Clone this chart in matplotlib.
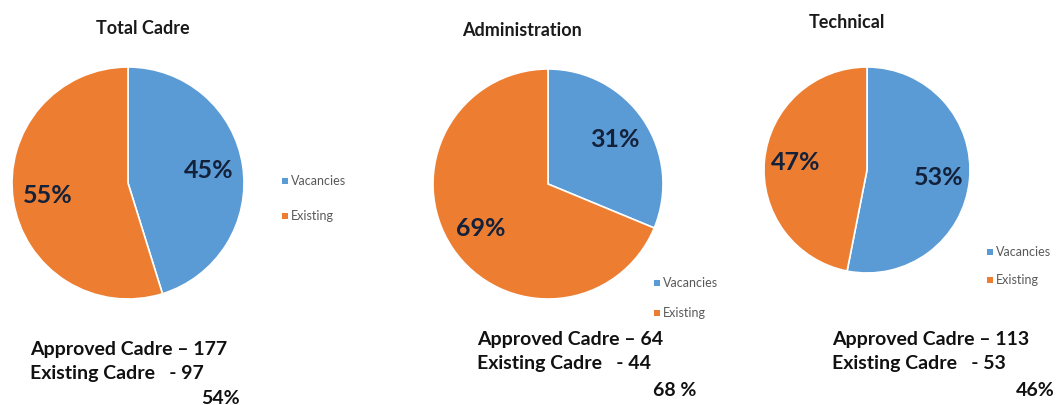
import matplotlib
matplotlib.use("Agg")
import matplotlib.pyplot as plt

plt.rcParams["font.family"] = ["Lato", "DejaVu Sans"]

# ── data ──
titles = ["Total Cadre", "Administration", "Technical"]
labels = ["Vacancies", "Existing"]
approved = [177, 64, 113]
existing = [97, 44, 53]
vacancies = [a - e for a, e in zip(approved, existing)]
ratio_text = ["54%", "68 %", "46%"]

colors = ["#5B9BD5", "#ED7D31"]

W, H = 1057, 405
fig = plt.figure(figsize=(W / 100, H / 100), dpi=100)
fig.patch.set_facecolor("white")

# layout in pixels: pie centre, radius, title, legend, notes
layout = [
    dict(c=(128, 183), r=116, title=(143, 28), leg=(282, 181), gap=35, note=(30, 350), pct=(240, 398)),
    dict(c=(548, 184), r=115, title=(522, 31), leg=(654, 283), gap=30, note=(477, 339), pct=(696, 390)),
    dict(c=(867, 170), r=103, title=(847, 22), leg=(987, 252), gap=28, note=(832, 339), pct=(1055, 390)),
]


def fx(x):
    return x / W


def fy(y):
    return 1 - y / H


for i, L in enumerate(layout):
    cx, cy = L["c"]
    r = L["r"]
    ax = fig.add_axes([fx(cx - r), fy(cy + r), 2 * r / W, 2 * r / H])
    wedges, _, autotexts = ax.pie(
        [vacancies[i], existing[i]], colors=colors, startangle=90,
        counterclock=False, radius=1, autopct="%.0f%%", pctdistance=0.7,
        wedgeprops=dict(edgecolor="white", linewidth=1.2),
        textprops=dict(fontsize=18, fontweight="bold", color="#14213a"))
    ax.set_xlim(-1, 1)
    ax.set_ylim(-1, 1)
    ax.set_aspect("auto")

    tx, ty = L["title"]
    fig.text(fx(tx), fy(ty), titles[i], ha="center", va="center",
             fontsize=13, fontweight="bold", color="#1a1a1a")

    # legend
    lx, ly = L["leg"]
    for j, lab in enumerate(labels):
        yy = ly + j * L["gap"]
        fig.patches.append(plt.Rectangle((fx(lx), fy(yy) - 3 / H), 6 / W, 6 / H,
                                         transform=fig.transFigure, facecolor=colors[j],
                                         edgecolor="none"))
        fig.text(fx(lx + 9), fy(yy), lab, ha="left", va="center",
                 fontsize=9, color="#595959")

    # notes below each pie
    nx, ny = L["note"]
    fig.text(fx(nx), fy(ny), f"Approved Cadre \u2013 {approved[i]}", ha="left",
             va="center", fontsize=14, fontweight="bold", color="#111111")
    fig.text(fx(nx), fy(ny + 24), f"Existing Cadre   - {existing[i]}", ha="left",
             va="center", fontsize=14, fontweight="bold", color="#111111")
    px, py = L["pct"]
    fig.text(fx(px), fy(py), ratio_text[i], ha="right", va="center",
             fontsize=14, fontweight="bold", color="#111111")

fig.savefig("out.png", dpi=100, facecolor="white")
